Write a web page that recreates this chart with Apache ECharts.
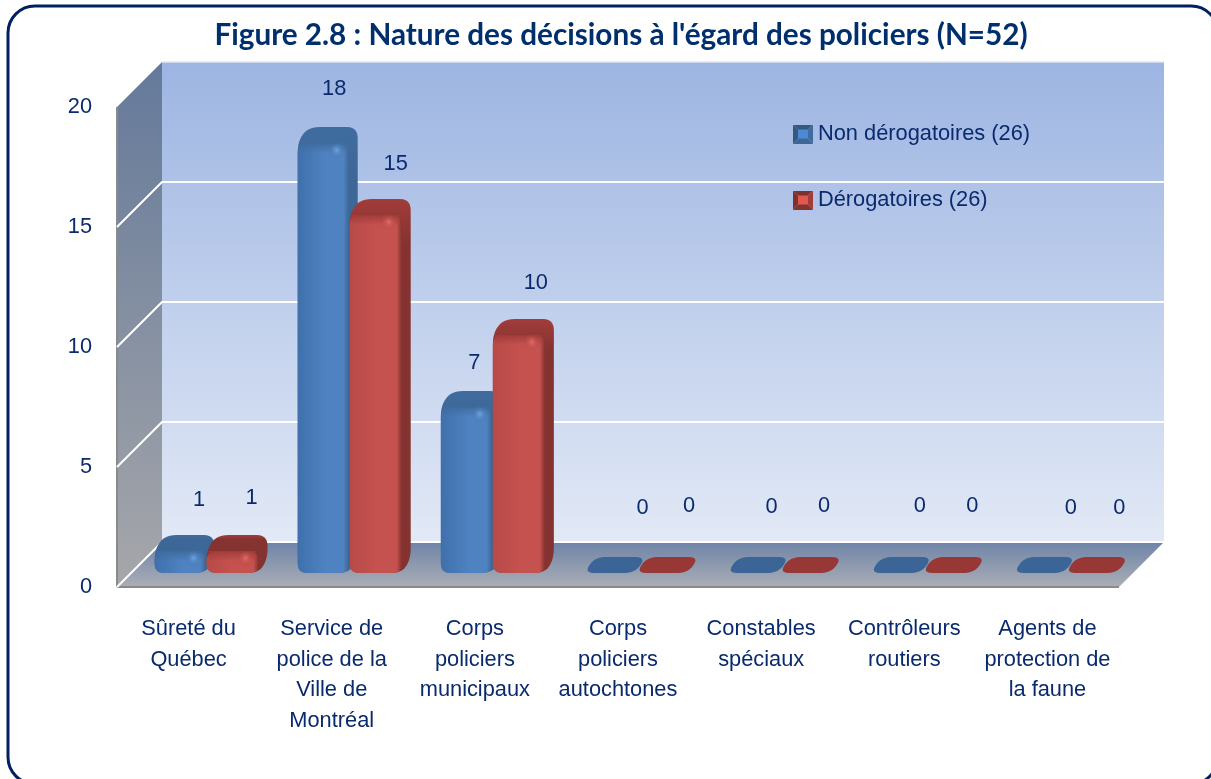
<!DOCTYPE html>
<html>
<head>
<meta charset="utf-8">
<style>
  html, body { margin: 0; padding: 0; background: #ffffff; }
  #chart { width: 1211px; height: 779px; }
</style>
<script src="https://cdn.jsdelivr.net/npm/echarts@6/dist/echarts.min.js"></script>
</head>
<body>
<div id="chart"></div>
<script>
  var categories = [
    'Sûreté du\nQuébec',
    'Service de\npolice de la\nVille de\nMontréal',
    'Corps\npoliciers\nmunicipaux',
    'Corps\npoliciers\nautochtones',
    'Constables\nspéciaux',
    'Contrôleurs\nroutiers',
    'Agents de\nprotection de\nla faune'
  ];
  var nonDerogatoires = [1, 18, 7, 0, 0, 0, 0];
  var derogatoires = [1, 15, 10, 0, 0, 0, 0];
  var yTicks = [0, 5, 10, 15, 20];

  // the value labels sit by hand in the original, so each has its own nudge
  var blueNudge = [[19, -49], [11, -52], [8, -42], [33, -65], [19, -66], [24, -67], [32, -65]];
  var redNudge = [[19, -51], [20, -49], [17, -50], [27, -67], [19, -67], [24, -67], [28, -65]];

  var NAVY = '#0a2a6e';
  var FONT = '"Liberation Sans", Arial, sans-serif';
  var TEXT_SIZE = 21.8;
  var WALL_DX = 45, WALL_DY = 45;   // depth of the box
  var BAR_DX = 18, BAR_DY = 14;     // where the front of the bars stands in the box
  var BAR_W = 51, TOP_DX = 9, TOP_DY = 14;

  var BLUE = { edge: '#3f70ab', mid: '#4f82c0', side: '#3d6797', top: '#3f6c9f', clear: 'rgba(63,108,159,0)', flat: '#3a6596', glint: 'rgba(115,170,240,0.85)', dark: '#35587f', core: '#4d8ad6' };
  var RED = { edge: '#b74a47', mid: '#c6524f', side: '#853331', top: '#a13c3a', clear: 'rgba(161,60,58,0)', flat: '#973836', glint: 'rgba(235,115,105,0.85)', dark: '#7d3230', core: '#e2584f' };

  function linear(x, y, x2, y2, stops) {
    return new echarts.graphic.LinearGradient(x, y, x2, y2, stops);
  }

  // polygon with its corners cut by small curves
  function rounded(pts, r) {
    var out = [];
    var n = pts.length;
    for (var i = 0; i < n; i++) {
      var p = pts[i], a = pts[(i + n - 1) % n], b = pts[(i + 1) % n];
      var la = Math.hypot(a[0] - p[0], a[1] - p[1]) || 1;
      var lb = Math.hypot(b[0] - p[0], b[1] - p[1]) || 1;
      var ra = Math.min(r, la / 2), rb = Math.min(r, lb / 2);
      var s = [p[0] + (a[0] - p[0]) * ra / la, p[1] + (a[1] - p[1]) * ra / la];
      var e = [p[0] + (b[0] - p[0]) * rb / lb, p[1] + (b[1] - p[1]) * rb / lb];
      for (var t = 0; t <= 6; t++) {
        var u = t / 6;
        out.push([
          (1 - u) * (1 - u) * s[0] + 2 * u * (1 - u) * p[0] + u * u * e[0],
          (1 - u) * (1 - u) * s[1] + 2 * u * (1 - u) * p[1] + u * u * e[1]
        ]);
      }
    }
    return out;
  }

  function renderWalls(params, api) {
    var o = api.coord([0, 0]);
    var t = api.coord([0, 20]);
    var left = o[0] - api.size([1, 0])[0] / 2;
    var right = left + api.size([1, 0])[0] * categories.length;
    var kids = [
      { type: 'polygon', shape: { points: [[left, t[1]], [left + WALL_DX, t[1] - WALL_DY], [left + WALL_DX, o[1] - WALL_DY], [left, o[1]]] },
        style: { fill: linear(0, 0, 0, 1, [{ offset: 0, color: '#64799a' }, { offset: 1, color: '#a6a7aa' }]) } },
      { type: 'rect', shape: { x: left + WALL_DX, y: t[1] - WALL_DY, width: right - left, height: o[1] - t[1] },
        style: { fill: linear(0, 0, 0, 1, [{ offset: 0, color: '#9db5e2' }, { offset: 1, color: '#e2e9f6' }]) } },
      { type: 'polygon', shape: { points: [[left, o[1]], [left + WALL_DX, o[1] - WALL_DY], [right + WALL_DX, o[1] - WALL_DY], [right, o[1]]] },
        style: { fill: linear(0, 0, 0, 1, [{ offset: 0, color: '#6e84a8' }, { offset: 1, color: '#abaeb5' }]) } },
      { type: 'line', shape: { x1: left, y1: o[1], x2: right, y2: o[1] }, style: { stroke: '#8a8a8a', lineWidth: 2 } },
      { type: 'line', shape: { x1: left, y1: t[1], x2: left, y2: o[1] }, style: { stroke: '#8a8a8a', lineWidth: 2 } }
    ];
    yTicks.forEach(function (v) {
      var y = api.coord([0, v])[1];
      // the top of the box has no white line on its left side
      if (v === 20) {
        kids.push({ type: 'line', shape: { x1: left + WALL_DX, y1: y - WALL_DY, x2: right + WALL_DX, y2: y - WALL_DY },
          style: { stroke: '#dfe6f3', lineWidth: 1.5 } });
        return;
      }
      kids.push({ type: 'polyline', shape: { points: [[left, y], [left + WALL_DX, y - WALL_DY], [right + WALL_DX, y - WALL_DY]] },
        style: { fill: 'none', stroke: '#ffffff', lineWidth: 2 } });
    });
    return { type: 'group', children: kids };
  }

  function barRenderer(colors, side, nudges) {
    return function (params, api) {
      var value = api.value(1);
      var base = api.coord([api.value(0), 0]);
      var head = api.coord([api.value(0), value]);
      var cx = base[0] + BAR_DX;
      var x0 = side < 0 ? cx - BAR_W - 1 : cx;
      var x1 = x0 + BAR_W + (side < 0 ? 0 : 1);
      var yb = base[1] - BAR_DY;
      var yt = head[1] - BAR_DY;
      var kids = [];

      if (value === 0) {
        kids.push({ type: 'polygon', shape: { points: rounded([[x0, yb], [x0 + TOP_DX + 2, yb - 16], [x1 + TOP_DX + 2, yb - 16], [x1, yb]], 10) },
          style: { fill: colors.flat } });
      } else {
        kids.push({ type: 'polygon', shape: { points: rounded([
            [x0, yb], [x0, yt], [x0 + TOP_DX + 2, yt - TOP_DY], [x1 + TOP_DX, yt - TOP_DY], [x1 + TOP_DX, yb - TOP_DY], [x1, yb]
          ], 11) },
          style: { fill: linear(0, 0, 0, 1, [{ offset: 0, color: colors.top }, { offset: 0.12, color: colors.side }, { offset: 1, color: colors.side }]) } });
        kids.push({ type: 'polygon', shape: { points: rounded([[x0, yb], [x0, yt + 3], [x1, yt + 3], [x1, yb]], 9) },
          style: { fill: linear(0, 0, 1, 0, [{ offset: 0, color: colors.edge }, { offset: 0.55, color: colors.mid }, { offset: 0.9, color: colors.mid }, { offset: 1, color: colors.side }]) } });
        // soft edge between the top of the bar and its front
        kids.push({ type: 'rect', shape: { x: x0 + 2, y: yt + 2, width: BAR_W - 4, height: 10 },
          style: { fill: linear(0, 0, 0, 1, [{ offset: 0, color: colors.top }, { offset: 1, color: colors.clear }]) } });
        kids.push({ type: 'circle', shape: { cx: x0 + 39, cy: yt + 9, r: 9 },
          style: { fill: new echarts.graphic.RadialGradient(0.5, 0.5, 0.5, [{ offset: 0, color: colors.glint }, { offset: 1, color: colors.clear }]) } });
      }

      var nudge = nudges[params.dataIndex];
      kids.push({ type: 'text', style: {
        text: String(value), x: (x0 + x1) / 2 + nudge[0], y: yt + nudge[1],
        fill: NAVY, font: TEXT_SIZE + 'px ' + FONT, align: 'center', verticalAlign: 'middle'
      } });
      return { type: 'group', children: kids };
    };
  }

  function legendIcon(colors) {
    var c = document.createElement('canvas');
    c.width = 20;
    c.height = 19;
    var g = c.getContext('2d');
    var quad = function (color, pts) {
      g.fillStyle = color;
      g.beginPath();
      g.moveTo(pts[0][0], pts[0][1]);
      g.lineTo(pts[1][0], pts[1][1]);
      g.lineTo(pts[2][0], pts[2][1]);
      g.lineTo(pts[3][0], pts[3][1]);
      g.closePath();
      g.fill();
    };
    quad(colors.dark, [[0, 0], [20, 0], [15, 5], [5, 5]]);
    quad(colors.side, [[0, 19], [20, 19], [15, 14], [5, 14]]);
    quad(colors.dark, [[0, 0], [5, 5], [5, 14], [0, 19]]);
    quad(colors.top, [[20, 0], [15, 5], [15, 14], [20, 19]]);
    g.fillStyle = colors.core;
    g.fillRect(5, 5, 10, 9);
    return 'image://' + c.toDataURL();
  }

  function toPairs(values) {
    return values.map(function (v, i) { return [i, v]; });
  }

  var chart = echarts.init(document.getElementById('chart'));
  chart.setOption({
    animation: false,
    backgroundColor: '#ffffff',
    title: {
      text: "Figure 2.8 : Nature des décisions à l'égard des policiers (N=52)",
      left: 616,
      top: 15,
      textAlign: 'center',
      textStyle: { color: '#002f6e', fontFamily: 'Lato, sans-serif', fontWeight: 'bold', fontSize: 29.7 }
    },
    legend: {
      orient: 'vertical',
      left: 793,
      top: 123,
      padding: 0,
      itemWidth: 20,
      itemHeight: 19,
      itemGap: 44,
      selectedMode: false,
      textStyle: { color: NAVY, fontFamily: FONT, fontSize: TEXT_SIZE },
      data: [
        { name: 'Non dérogatoires (26)', icon: legendIcon(BLUE) },
        { name: 'Dérogatoires (26)', icon: legendIcon(RED) }
      ]
    },
    grid: { left: 117, top: 107, width: 1002, height: 480 },
    xAxis: {
      type: 'category',
      data: categories,
      axisLine: { show: false },
      axisTick: { show: false },
      axisLabel: { interval: 0, margin: 27, color: NAVY, fontFamily: FONT, fontSize: TEXT_SIZE, lineHeight: 30.5, verticalAlign: 'top' }
    },
    yAxis: {
      type: 'value',
      min: 0,
      max: 20,
      interval: 5,
      axisLine: { show: false },
      axisTick: { show: false },
      splitLine: { show: false },
      axisLabel: { margin: 25, color: NAVY, fontFamily: FONT, fontSize: TEXT_SIZE, padding: [2, 0, 0, 0] }
    },
    series: [
      { type: 'custom', name: 'walls', silent: true, z: 1, clip: false, renderItem: renderWalls, data: [[0, 0]] },
      { type: 'custom', name: 'Non dérogatoires (26)', z: 2, clip: false, itemStyle: { color: BLUE.mid },
        renderItem: barRenderer(BLUE, -1, blueNudge), data: toPairs(nonDerogatoires) },
      { type: 'custom', name: 'Dérogatoires (26)', z: 3, clip: false, itemStyle: { color: RED.mid },
        renderItem: barRenderer(RED, 1, redNudge), data: toPairs(derogatoires) }
    ],
    graphic: [{
      type: 'rect',
      silent: true,
      z: 100,
      shape: { x: 8, y: 6, width: 1210, height: 778, r: 27 },
      style: { fill: 'none', stroke: '#002060', lineWidth: 3 }
    }]
  });
</script>
</body>
</html>
